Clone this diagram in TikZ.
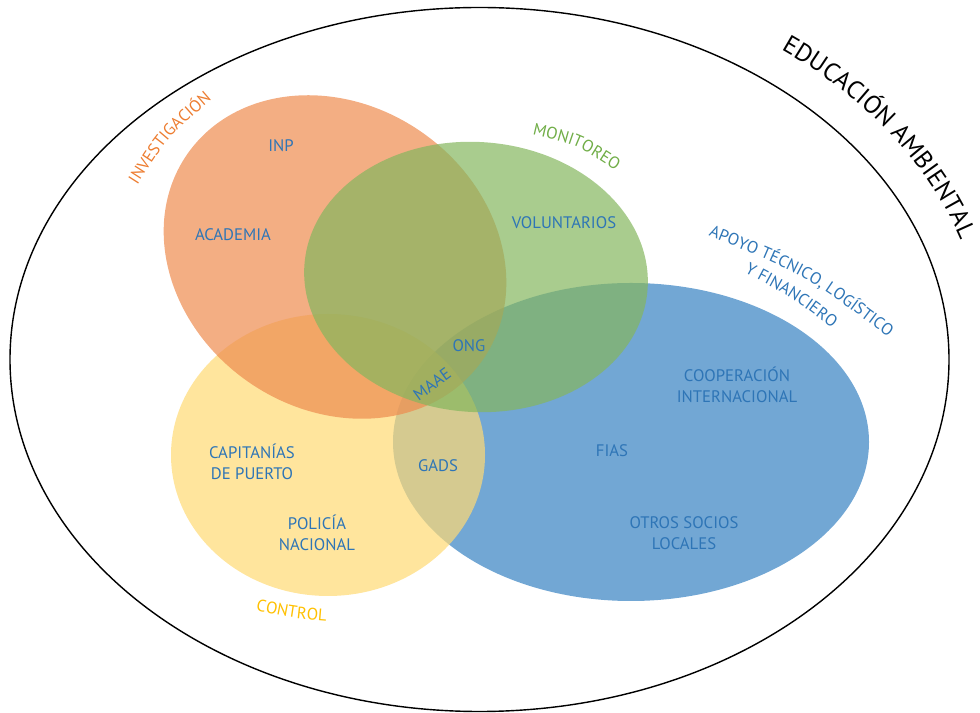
\documentclass[tikz,border=0pt]{standalone}
\usepackage{fontspec}
\setmainfont{PT Sans}
\usetikzlibrary{decorations.text}
\definecolor{investorange}{RGB}{238,139,79}
\definecolor{monigreen}{RGB}{132,182,94}
\definecolor{apoyoblue}{RGB}{54,129,194}
\definecolor{controlyellow}{RGB}{255,218,116}
\definecolor{lblblue}{RGB}{46,117,182}
\definecolor{lblorange}{RGB}{237,125,49}
\definecolor{lblgreen}{RGB}{112,173,71}
\definecolor{lblyellow}{RGB}{255,192,0}
\tikzset{circleset/.style = {fill=#1, fill opacity=0.7, draw=none},
         lbl/.style = {text=lblblue, font=\fontsize{9.5}{12}\selectfont, align=center},
         curved/.style = {decorate, decoration={text along path, text align=center,
                                                text={#1}}}}

\begin{document}
\begin{tikzpicture}[x=0.02cm, y=0.02cm]
    \useasboundingbox (0,0) rectangle (980,713);
    \draw [line width=0.8pt] (479.5,353.5) ellipse [x radius=469.5, y radius=352];
    % the four sets
    \fill [circleset=apoyoblue] (631,271) ellipse [x radius=238, y radius=159];
    \fill [circleset=controlyellow] (328,258) ellipse [x radius=157, y radius=141];
    \fill [circleset=investorange, rotate around={-35:(335,456)}] (335,456) ellipse [x radius=180, y radius=152];
    \fill [circleset=monigreen, rotate around={-4:(476,436)}] (476,436) ellipse [x radius=172, y radius=135];
    % titles
    \path [curved={|\fontsize{14.3}{17}\selectfont|EDUCACIÓN AMBIENTAL}] (479.5,353.5) ++(56:506 and 386)
        arc [start angle=56, end angle=15, x radius=506, y radius=386];
    \path [curved={|\fontsize{9.5}{12}\selectfont\color{lblorange}|INVESTIGACIÓN}] (138,529) .. controls (168,576) .. (211,613);
    \path [curved={|\fontsize{9.5}{12}\selectfont\color{lblgreen}|MONITOREO}] (532,578.5) .. controls (577,568) .. (616,542.5);
    \path [curved={|\fontsize{9.5}{12}\selectfont\color{lblyellow}|CONTROL}] (255,103) .. controls (291,95) .. (327,92);
    \path [curved={|\fontsize{9.5}{12}\selectfont\color{lblblue}|APOYO TÉCNICO, LOGÍSTICO}] (710.6,476.3) .. controls (805,438) .. (886.4,377.3);
    \path [curved={|\fontsize{9.5}{12}\selectfont\color{lblblue}|Y FINANCIERO}] (744.6,440.6) .. controls (790.4,416.3) .. (832,385.2);
    % members
    \node [lbl] (inp) at (281,567) {INP};
    \node [lbl] (academia) at (233,478) {ACADEMIA};
    \node [lbl] (voluntarios) at (564,490) {VOLUNTARIOS};
    \node [lbl] (ong) at (469,367) {ONG};
    \node [lbl, rotate=36] (maae) at (432,329) {MAAE};
    \node [lbl] (gads) at (438,247) {GADS};
    \node [lbl] (fias) at (612,262) {FIAS};
    \node [lbl] (cooperacion) at (737,328) {COOPERACIÓN\\INTERNACIONAL};
    \node [lbl] (capitanias) at (252,251) {CAPITANÍAS\\DE PUERTO};
    \node [lbl] (policia) at (317,180) {POLICÍA\\NACIONAL};
    \node [lbl] (otros) at (684,180) {OTROS SOCIOS\\LOCALES};
\end{tikzpicture}
\end{document}
